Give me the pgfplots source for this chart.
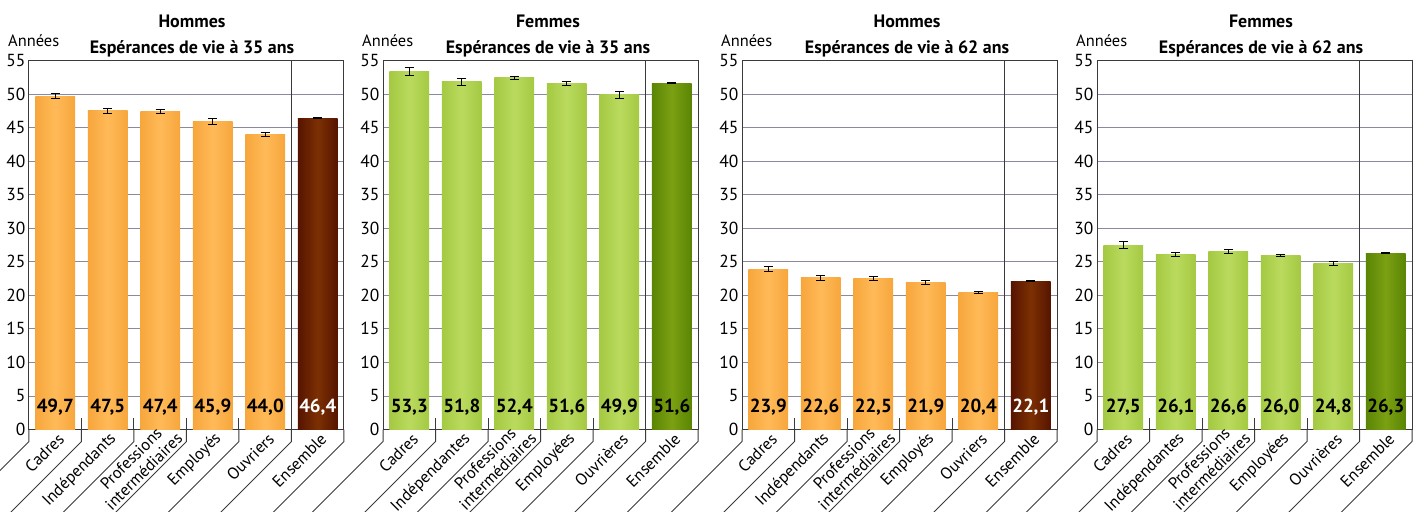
\documentclass[border=0pt]{standalone}
\usepackage{pgfplots}
\pgfplotsset{compat=1.18}
\usepackage{pgfplotstable}
\usepackage{fontspec}
\setmainfont{PT Sans}

\definecolor{oedge}{HTML}{F7A63C}
\definecolor{omid}{HTML}{FFBA58}
\definecolor{bedge}{HTML}{561400}
\definecolor{bmid}{HTML}{7C3002}
\definecolor{gedge}{HTML}{A4C942}
\definecolor{gmid}{HTML}{BADA5E}
\definecolor{dgedge}{HTML}{5A8504}
\definecolor{dgmid}{HTML}{7BA012}
\definecolor{gridc}{HTML}{8A8A9E}
\definecolor{linec}{HTML}{3A3A3A}

% x = categorie, y = esperance de vie, e = demi-intervalle, lab = etiquette
\pgfplotstableread{
x y e lab
0 49.7 0.40 49,7
1 47.5 0.40 47,5
2 47.4 0.35 47,4
3 45.9 0.50 45,9
4 44.0 0.30 44,0
5 46.4 0.10 46,4
}\hommesA
\pgfplotstableread{
x y e lab
0 53.3 0.60 53,3
1 51.8 0.50 51,8
2 52.4 0.25 52,4
3 51.6 0.30 51,6
4 49.9 0.50 49,9
5 51.6 0.10 51,6
}\femmesA
\pgfplotstableread{
x y e lab
0 23.9 0.35 23,9
1 22.6 0.35 22,6
2 22.5 0.30 22,5
3 21.9 0.35 21,9
4 20.4 0.20 20,4
5 22.1 0.10 22,1
}\hommesB
\pgfplotstableread{
x y e lab
0 27.5 0.55 27,5
1 26.1 0.30 26,1
2 26.6 0.30 26,6
3 26.0 0.15 26,0
4 24.8 0.30 24,8
5 26.3 0.10 26,3
}\femmesB

\pgfplotsset{
  panel/.style={
    scale only axis, width=315bp, height=369bp, anchor=south west,
    xmin=-0.5, xmax=5.5, ymin=0, ymax=55,
    xtick=\empty, ytick={0,5,...,55},
    ymajorgrids, grid style={gridc, line width=0.9bp},
    axis line style={linec, line width=1bp},
    major tick length=0pt,
    yticklabel style={font=\fontsize{17.5}{17.5}\selectfont},
    /pgf/number format/assume math mode=true,
    clip=false,
  },
}
\tikzset{
  sepl/.style={linec, line width=1bp},
  catl/.style={rotate=45, anchor=east, inner sep=0pt,
    font=\fontsize{16.5}{18}\selectfont},
}

% une barre par trace, pour que le degrade soit propre a chaque barre
\newcommand\bars[6]{%
  \pgfplotsinvokeforeach{-0.5:0.5,0.5:1.5,1.5:2.5,2.5:3.5,3.5:4.5}{%
    \addplot[ybar, bar width=0.76, bar shift=0pt, draw=none,
      left color=#2, right color=#2, middle color=#3,
      restrict x to domain=##1] table[x=x, y=y] {#1};}
  \addplot[ybar, bar width=0.76, bar shift=0pt, draw=none,
    left color=#4, right color=#4, middle color=#5,
    restrict x to domain=4.5:5.5] table[x=x, y=y] {#1};
  \addplot[draw=none, mark=none,
    error bars/.cd, y dir=both, y explicit,
    error bar style={draw=black, line width=1bp},
    error mark options={draw=black, rotate=90, mark size=4.5bp, line width=1bp}]
    table[x=x, y=y, y error=e] {#1};
  \addplot[draw=none, mark=none, nodes near coords, point meta=explicit symbolic,
    every node near coord/.append style={anchor=center, text=black,
      font=\fontsize{19}{19}\selectfont\bfseries},
    restrict x to domain=-1:4.5] table[x=x, y expr=3.3, meta=lab] {#1};
  \addplot[draw=none, mark=none, nodes near coords, point meta=explicit symbolic,
    every node near coord/.append style={anchor=center, text=#6,
      font=\fontsize{19}{19}\selectfont\bfseries},
    restrict x to domain=4.5:6] table[x=x, y expr=3.3, meta=lab] {#1};
}

\newcommand\cats[6]{%
  \pgfplotsinvokeforeach{-0.5,0.5,1.5,2.5,3.5,4.5,5.5}{%
    \draw[sepl] (axis cs:##1,0) -- ([yshift=-12bp]axis cs:##1,0) -- ++(-75bp,-75bp);}
  \pgfplotsinvokeforeach{0.5,1.5,2.5,3.5}{%
    \draw[sepl] (axis cs:##1,1.65) -- (axis cs:##1,0);}
  \draw[sepl] (axis cs:4.5,0) -- (axis cs:4.5,55);
  \node[catl] at ([xshift=6bp,yshift=-6.5bp]axis cs:0,0) {#1};
  \node[catl] at ([xshift=6bp,yshift=-6.5bp]axis cs:1,0) {#2};
  \node[catl, align=center] at ([xshift=13bp,yshift=0.5bp]axis cs:2,0) {#3};
  \node[catl] at ([xshift=6bp,yshift=-6.5bp]axis cs:3,0) {#4};
  \node[catl] at ([xshift=6bp,yshift=-6.5bp]axis cs:4,0) {#5};
  \node[catl] at ([xshift=6bp,yshift=-6.5bp]axis cs:5,0) {#6};
}

\newcommand\titles[4]{%
  \node[anchor=base, inner sep=0pt, font=\fontsize{18}{18}\selectfont\bfseries]
    at (#1,484bp) {#3};
  \node[anchor=base, inner sep=0pt, font=\fontsize{18}{18}\selectfont\bfseries]
    at (#1,458.5bp) {#4};
  \node[anchor=base west, inner sep=0pt, font=\fontsize{16.5}{16.5}\selectfont]
    at (#2,465bp) {Années};
}

\begin{document}
\begin{tikzpicture}
\useasboundingbox (0,0) rectangle (1417bp,512bp);

\begin{axis}[panel, at={(29bp,82.5bp)}]
  \bars{\hommesA}{oedge}{omid}{bedge}{bmid}{white}
  \cats{Cadres}{Indépendants}{Professions\\intermédiaires}{Employés}{Ouvriers}{Ensemble}
\end{axis}
\titles{192bp}{8bp}{Hommes}{Espérances de vie à 35 ans}

\begin{axis}[panel, at={(383bp,82.5bp)}]
  \bars{\femmesA}{gedge}{gmid}{dgedge}{dgmid}{black}
  \cats{Cadres}{Indépendantes}{Professions\\intermédiaires}{Employées}{Ouvrières}{Ensemble}
\end{axis}
\titles{548bp}{362bp}{Femmes}{Espérances de vie à 35 ans}

\begin{axis}[panel, at={(742bp,82.5bp)}]
  \bars{\hommesB}{oedge}{omid}{bedge}{bmid}{white}
  \cats{Cadres}{Indépendants}{Professions\\intermédiaires}{Employés}{Ouvriers}{Ensemble}
\end{axis}
\titles{907bp}{721bp}{Hommes}{Espérances de vie à 62 ans}

\begin{axis}[panel, at={(1097bp,82.5bp)}]
  \bars{\femmesB}{gedge}{gmid}{dgedge}{dgmid}{black}
  \cats{Cadres}{Indépendantes}{Professions\\intermédiaires}{Employées}{Ouvrières}{Ensemble}
\end{axis}
\titles{1261bp}{1076bp}{Femmes}{Espérances de vie à 62 ans}

\end{tikzpicture}
\end{document}
